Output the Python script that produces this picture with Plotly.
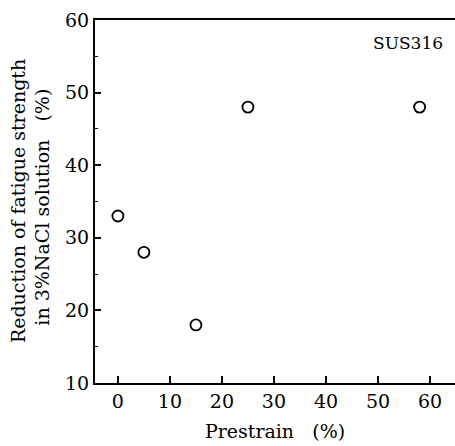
import plotly.graph_objects as go

prestrain = [0, 5, 15, 25, 58]
reduction = [33, 28, 18, 48, 48]
x_ticks = [0, 10, 20, 30, 40, 50, 60]
y_ticks = [10, 20, 30, 40, 50, 60]

FONT = "DejaVu Serif"

fig = go.Figure()
fig.add_trace(go.Scatter(
    x=prestrain, y=reduction, mode="markers",
    marker=dict(symbol="circle-open", size=11, color="black", line=dict(width=1.8, color="black")),
    showlegend=False,
))

fig.update_layout(
    width=455, height=446,
    margin=dict(l=95, r=0, t=20, b=63),
    paper_bgcolor="white", plot_bgcolor="white",
    font=dict(family=FONT, size=19, color="black"),
    xaxis=dict(
        range=[-4.4, 64.8], tickvals=x_ticks, ticks="inside", ticklen=7, tickwidth=1.5,
        tickcolor="black", showline=True, linecolor="black", linewidth=2, mirror=True,
        showgrid=False, zeroline=False, tickfont=dict(family=FONT, size=19),
        title=dict(text="Prestrain\u00a0\u00a0\u00a0(%)", font=dict(family=FONT, size=19), standoff=14),
    ),
    yaxis=dict(
        range=[10, 60], tickvals=y_ticks, ticks="inside", ticklen=6, tickwidth=1.5,
        tickcolor="black", showline=True, linecolor="black", linewidth=2,
        showgrid=False, zeroline=False, tickfont=dict(family=FONT, size=19),
        minor=dict(dtick=5, ticks="inside", ticklen=3, tickcolor="black", tickwidth=1),
    ),
)

fig.add_annotation(
    text="Reduction of fatigue strength", textangle=-90,
    xref="paper", yref="paper", x=-0.215, y=0.50, xanchor="center", yanchor="middle",
    showarrow=False, font=dict(family=FONT, size=19),
)
fig.add_annotation(
    text="in 3%NaCl solution\u00a0\u00a0\u00a0(%)", textangle=-90,
    xref="paper", yref="paper", x=-0.148, y=0.485, xanchor="center", yanchor="middle",
    showarrow=False, font=dict(family=FONT, size=19),
)
fig.add_annotation(
    text="SUS316", xref="paper", yref="paper", x=0.87, y=0.937,
    xanchor="center", yanchor="middle", showarrow=False, font=dict(family=FONT, size=17),
)

fig.write_html("out.html")
